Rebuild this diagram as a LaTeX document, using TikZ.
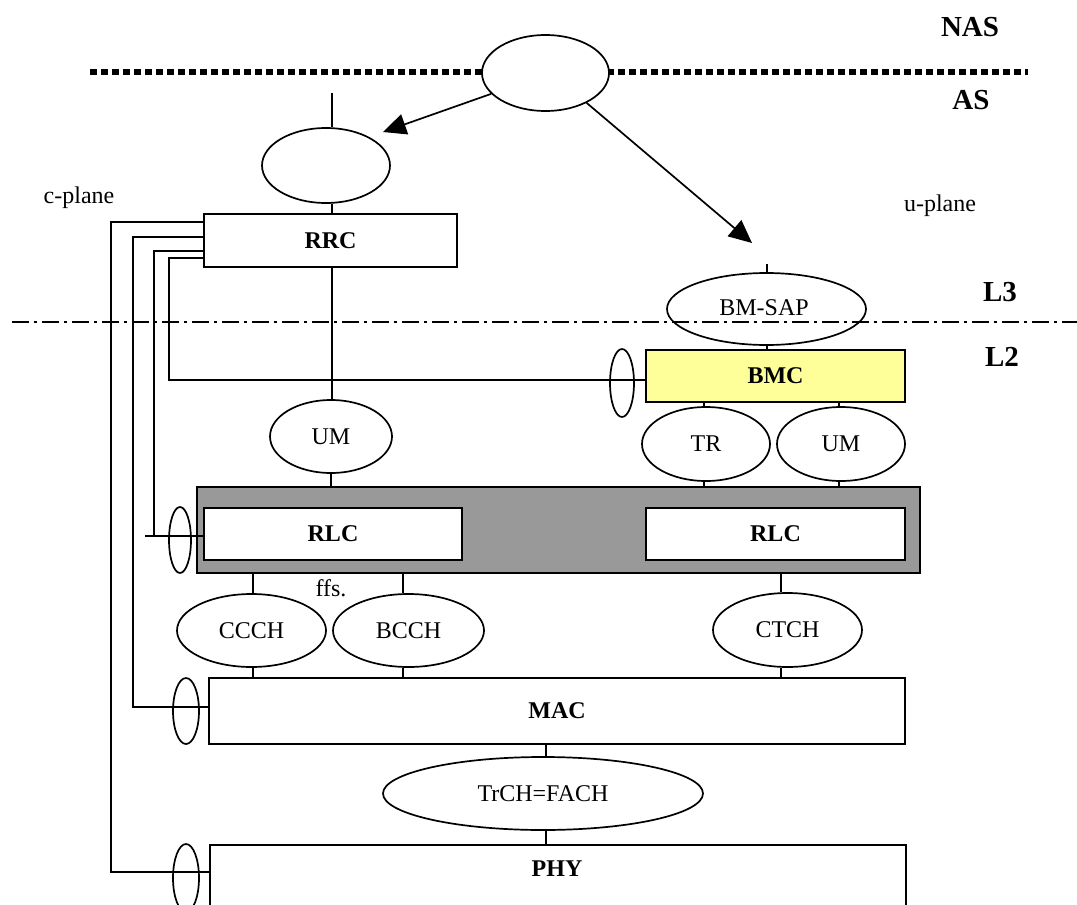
\documentclass[tikz,border=0pt]{standalone}
\usepackage{fontspec}
\setmainfont{Liberation Serif}
\usetikzlibrary{shapes.geometric,arrows.meta}
\definecolor{rlcgray}{RGB}{153,153,153}
\definecolor{bmcyellow}{RGB}{255,255,153}
\begin{document}
\begin{tikzpicture}[x=1pt,y=-1pt,
  lw/.style={line width=1.7pt},
  box/.style={draw,lw,rectangle,inner sep=0pt,font=\fontsize{24}{24}\selectfont\bfseries},
  ell/.style={draw,lw,ellipse,inner sep=0pt,font=\fontsize{24}{24}\selectfont},
  sap/.style={draw,lw,ellipse,inner sep=0pt},
  lyr/.style={inner sep=0pt,font=\fontsize{29}{29}\selectfont\bfseries},
  txt/.style={inner sep=0pt,font=\fontsize{24}{24}\selectfont},
  conn/.style={lw},
  arr/.style={lw,-{Triangle[length=23pt,width=21pt]}}]
\useasboundingbox (0,0) rectangle (1077,905);
\clip (0,0) rectangle (1077,905);
\fill[white] (0,0) rectangle (1077,905);

% layer boundaries
\coordinate (dl0) at (90,72);
\coordinate (dl1) at (1028,72);
\draw[line width=6.5pt,dash pattern=on 6.5pt off 4.5pt] (dl0) -- (dl1);
\coordinate (dd0) at (12,322);
\coordinate (dd1) at (1077,322);
\draw[line width=1.7pt,dash pattern=on 17pt off 5pt on 3pt off 5pt] (dd0) -- (dd1);

% layer labels
\node[lyr] (nas) at (970,27) {NAS};
\node[lyr] (as) at (971,100) {AS};
\node[lyr] (l3) at (1000,292) {L3};
\node[lyr] (l2) at (1002,357) {L2};
\node[txt] (uplane) at (940,206) {u-plane};
\node[txt] (cplane) at (79,198) {c-plane};

% top ellipse
\node[ell,fill=white,minimum width=127pt,minimum height=76pt] (top) at (545.5,73) {};

% RRC side
\node[ell,minimum width=128pt,minimum height=75pt] (rrcell) at (326,165.5) {};
\node[box,minimum width=253pt,minimum height=53pt] (rrc) at (330.5,240.5) {RRC};
\coordinate (stubA) at (332,93);
\draw[conn] (stubA) -- (stubA |- rrcell.north);
\draw[conn] (stubA |- rrcell.south) -- (stubA |- rrc.north);

% BMC side
\coordinate (stubB) at (767,264);
\node[ell,minimum width=199pt,minimum height=72pt] (bmsap) at (766.5,309) {};
\node[txt] (bmsaptxt) at (764,308) {BM-SAP};
\draw[conn] (stubB) -- (stubB |- bmsap.north);
\node[box,fill=bmcyellow,minimum width=259pt,minimum height=52pt] (bmc) at (775.5,376) {BMC};
\draw[conn] (stubB |- bmsap.south) -- (stubB |- bmc.north);
\node[sap,minimum width=24pt,minimum height=68pt] (sapbmc) at (622,383) {};

% arrows
\coordinate (tipA) at (383,132);
\coordinate (tipB) at (752,243);
\draw[arr] (top.201) -- (tipA);
\draw[arr] (top.-36) -- (tipB);

% UM / TR / UM
\node[ell,minimum width=122pt,minimum height=73pt] (uml) at (331,436.5) {UM};
\node[ell,minimum width=128pt,minimum height=74pt] (tr) at (706,444) {TR};
\node[ell,minimum width=128pt,minimum height=74pt] (umr) at (841,444) {UM};

% RLC block
\node[draw,lw,fill=rlcgray,rectangle,inner sep=0pt,minimum width=723pt,minimum height=86pt] (rlcouter) at (558.5,530) {};
\node[box,fill=white,minimum width=258pt,minimum height=52pt] (rlcl) at (333,534) {RLC};
\node[box,fill=white,minimum width=259pt,minimum height=52pt] (rlcr) at (775.5,534) {RLC};
\node[sap,minimum width=22pt,minimum height=66pt] (saprlc) at (180,540) {};

\draw[conn] (stubA |- rrc.south) -- (stubA |- uml.north);
\draw[conn] (uml.south) -- (uml.south |- rlcouter.north);
\draw[conn] ([xshift=-2pt]tr.north |- bmc.south) -- ([xshift=-2pt]tr.north);
\draw[conn] ([xshift=-2pt]umr.north |- bmc.south) -- ([xshift=-2pt]umr.north);
\draw[conn] ([xshift=-2pt]tr.south) -- ([xshift=-2pt]tr.south |- rlcouter.north);
\draw[conn] ([xshift=-2pt]umr.south) -- ([xshift=-2pt]umr.south |- rlcouter.north);

\node[txt] (ffs) at (331,588) {ffs.};

% logical channels
\node[ell,minimum width=149pt,minimum height=73pt] (ccch) at (251.5,630.5) {CCCH};
\node[ell,minimum width=151pt,minimum height=73pt] (bcch) at (408.5,630.5) {BCCH};
\node[ell,minimum width=149pt,minimum height=74pt] (ctch) at (787.5,630) {CTCH};

% MAC
\node[box,minimum width=696pt,minimum height=66pt] (mac) at (557,711) {MAC};
\node[sap,minimum width=26pt,minimum height=66pt] (sapmac) at (186,711) {};

\draw[conn] ([xshift=1.5pt]ccch.north |- rlcouter.south) -- ([xshift=1.5pt]ccch.north);
\draw[conn] ([xshift=-5.5pt]bcch.north |- rlcouter.south) -- ([xshift=-5.5pt]bcch.north);
\draw[conn] ([xshift=-6.5pt]ctch.north |- rlcouter.south) -- ([xshift=-6.5pt]ctch.north);
\draw[conn] ([xshift=1.5pt]ccch.south) -- ([xshift=1.5pt]ccch.south |- mac.north);
\draw[conn] ([xshift=-5.5pt]bcch.south) -- ([xshift=-5.5pt]bcch.south |- mac.north);
\draw[conn] ([xshift=-6.5pt]ctch.south) -- ([xshift=-6.5pt]ctch.south |- mac.north);

% transport channel and PHY
\node[ell,minimum width=320pt,minimum height=73pt] (trch) at (543,793.5) {TrCH=FACH};
\node[draw,lw,rectangle,inner sep=0pt,minimum width=696pt,minimum height=96pt,anchor=north west] (phy) at (209,844) {};
\node[inner sep=0pt,font=\fontsize{24}{24}\selectfont\bfseries] (phytxt) at (557,869) {PHY};
\node[sap,minimum width=26pt,minimum height=68pt] (sapphy) at (186,878) {};
\draw[conn] ([xshift=3pt]trch.north |- mac.south) -- ([xshift=3pt]trch.north);
\draw[conn] ([xshift=3pt]trch.south) -- ([xshift=3pt]trch.south |- phy.north);

% control lines from RRC
\coordinate (c1) at (111,222);
\coordinate (c2) at (133,237);
\coordinate (c3) at (154,251);
\coordinate (c4) at (169,258);
\coordinate (rlcfree) at (145,536);
\draw[conn] (rrc.west |- c1) -- (c1) -- (c1 |- 0,872) -- (phy.west |- 0,872);
\draw[conn] (rrc.west |- c2) -- (c2) -- (c2 |- 0,707) -- (mac.west |- 0,707);
\draw[conn] (rrc.west |- c3) -- (c3) -- (c3 |- rlcfree);
\draw[conn] (rlcfree) -- (rlcl.west |- rlcfree);
\draw[conn] (rrc.west |- c4) -- (c4) -- (c4 |- 0,380) -- (bmc.west |- 0,380);
\end{tikzpicture}
\end{document}
